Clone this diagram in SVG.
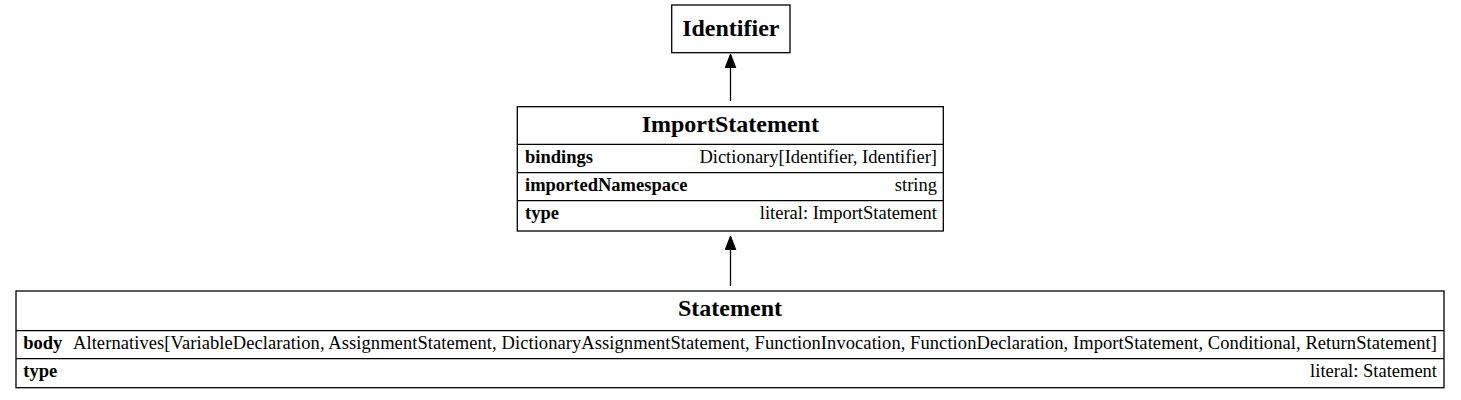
<svg xmlns="http://www.w3.org/2000/svg" width="1461" height="400" viewBox="0 0 1461 400">
<style>
  .box { fill: #ffffff; stroke: #000000; stroke-width: 1.3; }
  .sep { stroke: #000000; stroke-width: 1.3; }
  .title { font-family: "Liberation Serif", "Times New Roman", serif; font-weight: bold; font-size: 24px; text-anchor: middle; fill: #000; }
  .fname { font-family: "Liberation Serif", "Times New Roman", serif; font-weight: bold; font-size: 18.5px; fill: #000; }
  .ftype { font-family: "Liberation Serif", "Times New Roman", serif; font-size: 18.5px; fill: #000; text-anchor: end; }
  .edge { stroke: #000000; stroke-width: 1.3; fill: none; marker-end: url(#arrow); }
</style>
<defs>
  <marker id="arrow" markerUnits="userSpaceOnUse" markerWidth="12" markerHeight="14" refX="6" refY="0" orient="0" viewBox="0 -1 12 14">
    <polygon points="6,0 11,13 1,13" fill="#000" stroke="#000" stroke-width="1.3"/>
  </marker>
</defs>
<rect width="1461" height="400" fill="#ffffff"/>
<g id="connectors">
  <line class="edge" x1="730.5" y1="101" x2="730.5" y2="54.5"/>
  <line class="edge" x1="730.5" y1="286" x2="730.5" y2="236.5"/>
</g>
<g id="node-Identifier">
  <rect class="box" x="671.7" y="5" width="118.3" height="47.7"/>
  <text class="title" x="730.8" y="36">Identifier</text>
</g>
<g id="node-ImportStatement">
  <rect class="box" x="517.3" y="106.7" width="426" height="124.3"/>
  <line class="sep" x1="517.3" y1="144.3" x2="943.3" y2="144.3"/>
  <line class="sep" x1="517.3" y1="172.7" x2="943.3" y2="172.7"/>
  <line class="sep" x1="517.3" y1="200.7" x2="943.3" y2="200.7"/>
  <text class="title" x="730.3" y="132">ImportStatement</text>
  <text class="fname" x="525" y="163">bindings</text>
  <text class="ftype" x="937" y="163">Dictionary[Identifier, Identifier]</text>
  <text class="fname" x="525" y="191">importedNamespace</text>
  <text class="ftype" x="937" y="191">string</text>
  <text class="fname" x="525" y="219">type</text>
  <text class="ftype" x="937" y="219">literal: ImportStatement</text>
</g>
<g id="node-Statement">
  <rect class="box" x="16" y="291" width="1428" height="96.7"/>
  <line class="sep" x1="16" y1="330.7" x2="1444" y2="330.7"/>
  <line class="sep" x1="16" y1="358.7" x2="1444" y2="358.7"/>
  <text class="title" x="730" y="316">Statement</text>
  <text class="fname" x="23.3" y="348.5">body</text>
  <text class="ftype" x="1437" y="349" textLength="1364" lengthAdjust="spacing">Alternatives[VariableDeclaration, AssignmentStatement, DictionaryAssignmentStatement, FunctionInvocation, FunctionDeclaration, ImportStatement, Conditional, ReturnStatement]</text>
  <text class="fname" x="23.3" y="377">type</text>
  <text class="ftype" x="1437" y="377">literal: Statement</text>
</g>
</svg>
